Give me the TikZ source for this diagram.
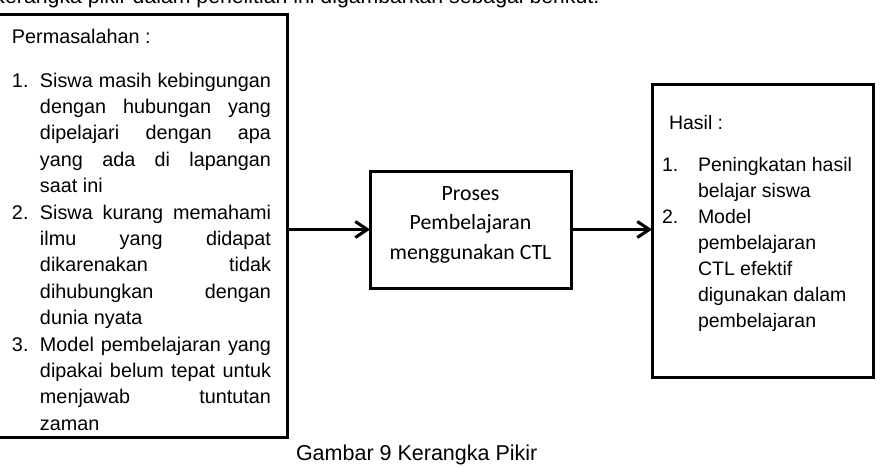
\documentclass[tikz,border=0pt]{standalone}
\usepackage{fontspec}
\setmainfont{Liberation Sans}
\newfontfamily\calibrifont{Carlito}
\usetikzlibrary{arrows.meta}
\newcommand{\PJ}[2]{\makebox[28pt][l]{#1}\makebox[231pt][s]{#2}}
\newcommand{\PL}[2]{\makebox[28pt][l]{#1}#2}
\newcommand{\HL}[2]{\makebox[36pt][l]{#1}#2}
\begin{document}
\begin{tikzpicture}[x=1pt,y=-1pt,
  boxst/.style={draw, line width=3pt, inner sep=0pt, outer sep=0pt},
  txt/.style={inner sep=0pt, outer sep=0pt, anchor=base west, align=left},
  arr/.style={line width=3pt, -{Straight Barb[length=12pt,width=16pt]}},
  ]
\useasboundingbox (0,0) rectangle (883,468);
\clip (0,0) rectangle (883,468);
\fill[white] (0,0) rectangle (883,468);
\node[txt, font=\fontsize{21.25}{25}\selectfont] (intro) at (-9,4) {Kerangka pikir dalam penelitian ini digambarkan sebagai berikut.};
% boxes
\node[boxst, minimum width=290, minimum height=422] (masalah) at (142,226) {};
\node[boxst, minimum width=201, minimum height=117] (proses) at (470.5,229.5) {};
\node[boxst, minimum width=221, minimum height=292] (hasil) at (762.5,231) {};
% left text (base anchor = baseline of the last line)
\node[txt, font=\fontsize{19.8}{26.4}\selectfont] (mhead) at (12,44) {Permasalahan :};
\node[txt, font=\fontsize{19.8}{26.4}\selectfont] (mlist) at (12,430.2) {%
\PJ{1.}{Siswa masih kebingungan}\\
\PJ{}{dengan hubungan yang}\\
\PJ{}{dipelajari dengan apa}\\
\PJ{}{yang ada di lapangan}\\
\PL{}{saat ini}\\
\PJ{2.}{Siswa kurang memahami}\\
\PJ{}{ilmu yang didapat}\\
\PJ{}{dikarenakan tidak}\\
\PJ{}{dihubungkan dengan}\\
\PL{}{dunia nyata}\\
\PJ{3.}{Model pembelajaran yang}\\
\PJ{}{dipakai belum tepat untuk}\\
\PJ{}{menjawab tuntutan}\\
\PL{}{zaman}};
% middle text
\node[inner sep=0pt, anchor=base, align=center, font=\calibrifont\fontsize{21.8}{29.5}\selectfont] (ptext) at (470.5,259) {Proses\\Pembelajaran\\menggunakan CTL};
% right text
\node[txt, font=\fontsize{19.5}{26}\selectfont] (hhead) at (669,129) {Hasil :};
\node[txt, font=\fontsize{19.5}{26}\selectfont] (hlist) at (662,327) {%
\HL{1.}{Peningkatan hasil}\\
\HL{}{belajar siswa}\\
\HL{2.}{Model}\\
\HL{}{pembelajaran}\\
\HL{}{CTL efektif}\\
\HL{}{digunakan dalam}\\
\HL{}{pembelajaran}};
% connectors
\draw[arr] (masalah.east |- proses.west) -- (proses.west);
\draw[arr] (proses.east) -- (proses.east -| hasil.west);
% caption
\node[txt, font=\fontsize{21.5}{25}\selectfont] (caption) at (296,460) {Gambar 9 Kerangka Pikir};
\end{tikzpicture}
\end{document}
